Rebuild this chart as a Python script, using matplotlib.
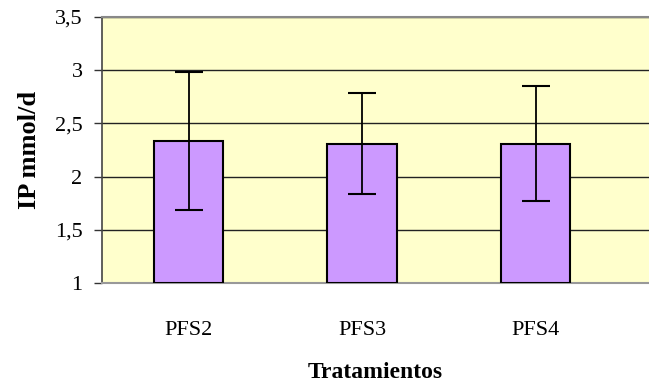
import matplotlib
matplotlib.use('Agg')
import matplotlib.pyplot as plt

categories = ['PFS2', 'PFS3', 'PFS4']
values = [2.335, 2.31, 2.31]
errors = [0.645, 0.476, 0.54]
y_ticks = [1, 1.5, 2, 2.5, 3, 3.5]
y_tick_labels = ['1', '1,5', '2', '2,5', '3', '3,5']

plt.rcParams['font.family'] = ['Liberation Serif', 'DejaVu Serif']

fig = plt.figure(figsize=(6.49, 3.82), dpi=100)
ax = fig.add_axes([0.157, 0.259, 0.843, 0.6966])
ax.set_facecolor('#FFFFCC')

x = list(range(len(categories)))
ax.bar(x, [v - 1 for v in values], bottom=1, width=0.4, color='#CC99FF',
       edgecolor='black', linewidth=1.5, zorder=3)
ax.errorbar(x, values, yerr=errors, fmt='none', ecolor='black', elinewidth=1.3,
            capsize=10, capthick=1.5, zorder=4)

ax.set_ylim(1, 3.5)
ax.set_xlim(-0.5, 2.653)
ax.set_yticks(y_ticks)
ax.set_yticklabels(y_tick_labels)
ax.set_xticks(x)
ax.set_xticklabels(categories)
ax.grid(axis='y', color='#222222', linewidth=1, zorder=1)
ax.set_axisbelow(True)

ax.tick_params(axis='y', direction='out', length=6, width=1, labelsize=16, pad=8, color='#333333')
ax.tick_params(axis='x', length=0, labelsize=16, pad=27)

ax.spines['right'].set_visible(False)
ax.spines['top'].set_color('#888888')
ax.spines['top'].set_linewidth(1.5)
ax.spines['bottom'].set_color('#999999')
ax.spines['bottom'].set_linewidth(1.5)
ax.spines['left'].set_color('#444444')
ax.spines['left'].set_linewidth(1.2)

ax.set_ylabel('IP mmol/d', fontsize=19, weight='bold', labelpad=10)
ax.set_xlabel('Tratamientos', fontsize=17, weight='bold', labelpad=16)

plt.savefig('out.png', dpi=100, facecolor='white')
plt.close()
